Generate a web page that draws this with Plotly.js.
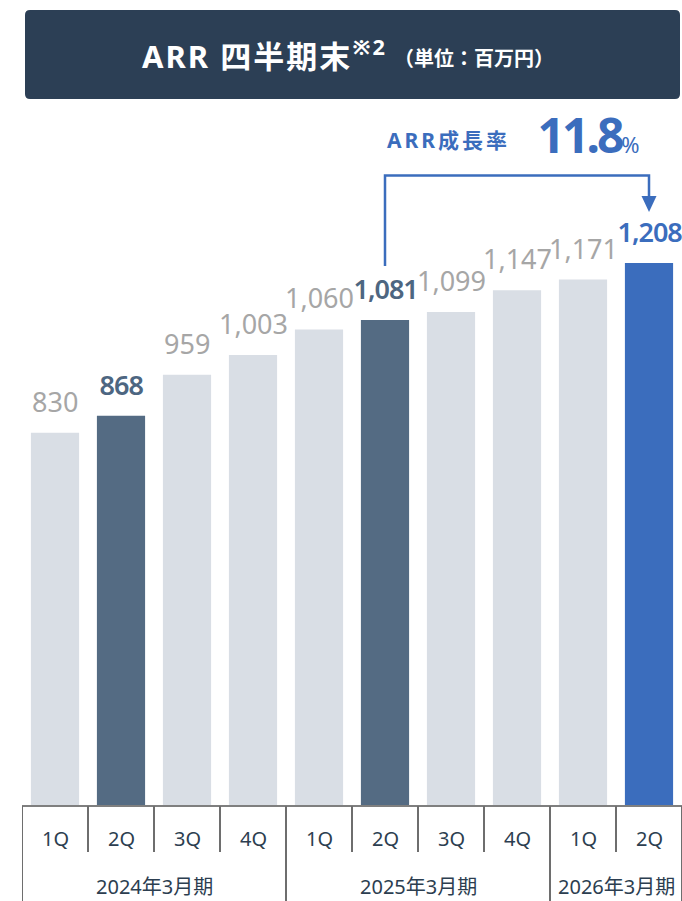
<!DOCTYPE html>
<html><head><meta charset="utf-8">
<script src="https://cdn.plot.ly/plotly-3.0.1.min.js"></script>
<style>html,body{margin:0;padding:0;background:#fff}</style>
</head><body><div id="chart" style="width:682px;height:901px"></div>
<script>
// ---- data ----
const quarters = ['1Q','2Q','3Q','4Q','1Q','2Q','3Q','4Q','1Q','2Q'];
const fiscalYears = ['2024年3月期','2025年3月期','2026年3月期'];
const yearSpans = [4, 4, 2];
const arrValues = [830, 868, 959, 1003, 1060, 1081, 1099, 1147, 1171, 1208];
const growthFrom = 5, growthTo = 9;
const growthRate = '11.8';
const titleMain = 'ARR 四半期末';
const titleNote = '※2';
const titleUnit = '（単位：百万円）';
const growthLabel = 'ARR成長率';

// ---- styles ----
const LIGHT = '#d9dee5', DARK = '#546b83', BLUE = '#3b6dbd';
const isHi = i => i === 1 || i === 5;
const barColors = arrValues.map((v, i) => i === growthTo ? BLUE : (isHi(i) ? DARK : LIGHT));
const labelColors = arrValues.map((v, i) => i === growthTo ? BLUE : (isHi(i) ? '#4d6681' : '#a6a6a6'));
const NUMFONT = 'Noto Sans, Noto Sans CJK JP, sans-serif';
const JPFONT = 'Noto Sans, Noto Sans CJK JP, sans-serif';

const xIdx = arrValues.map((v, i) => i);
const plotTop = 106, plotH = 700, baseY = 806;
const py = p => (baseY - p) / plotH; // pixel row -> paper y
const px = p => (p - 22) / 660;      // pixel col -> paper x

const shapes = [];
const annotations = [];

// title box (rounded)
const bx0 = px(25), bx1 = px(680), by0 = py(99), by1 = py(10), rx = 5/660, ry = 5/700;
shapes.push({type:'path', xref:'paper', yref:'paper', fillcolor:'#2c3f55', line:{width:0},
  path:`M ${bx0+rx},${by1} L ${bx1-rx},${by1} Q ${bx1},${by1} ${bx1},${by1-ry} L ${bx1},${by0+ry} Q ${bx1},${by0} ${bx1-rx},${by0} L ${bx0+rx},${by0} Q ${bx0},${by0} ${bx0},${by0+ry} L ${bx0},${by1-ry} Q ${bx0},${by1} ${bx0+rx},${by1} Z`});
annotations.push({xref:'paper', yref:'paper', x:px(264), y:py(55), xanchor:'center', yanchor:'middle', showarrow:false,
  name:'title', text:`<b>${titleMain}<sup>${titleNote}</sup></b>`,
  font:{family:JPFONT, size:31, color:'#ffffff'}});
annotations.push({xref:'paper', yref:'paper', x:px(474), y:py(58), xanchor:'center', yanchor:'middle', showarrow:false,
  text:`<b>${titleUnit}</b>`, font:{family:JPFONT, size:20, color:'#ffffff'}});

// growth annotation
annotations.push({xref:'paper', yref:'paper', x:px(448), y:py(140), xanchor:'center', yanchor:'middle', showarrow:false,
  name:'growthLabel', text:`<b>${growthLabel}</b>`, font:{family:JPFONT, size:21, color:BLUE}});
annotations.push({xref:'paper', yref:'paper', x:px(587), y:py(134), xanchor:'center', yanchor:'middle', showarrow:false,
  name:'growthRate', text:`<b>${growthRate}</b><span style="font-size:22px">%</span>`, font:{family:NUMFONT, size:48, color:BLUE}});

// bracket + arrow
const yTop = py(175.5), yLeftEnd = py(266), yTip = py(212), yHead = py(196);
shapes.push({type:'path', xref:'x', yref:'paper', line:{color:BLUE, width:2.5},
  path:`M ${growthFrom},${yLeftEnd} L ${growthFrom},${yTop} L ${growthTo},${yTop} L ${growthTo},${yHead}`});
const hw = 7.5/66;
shapes.push({type:'path', xref:'x', yref:'paper', line:{width:0}, fillcolor:BLUE,
  path:`M ${growthTo-hw},${yHead} L ${growthTo+hw},${yHead} L ${growthTo},${yTip} Z`});

// value labels
arrValues.forEach((v, i) => {
  const strong = isHi(i) || i === growthTo;
  annotations.push({x:i, y:v, xref:'x', yref:'y', yanchor:'bottom', yshift:11, showarrow:false,
    name: strong ? 'strongLabel' : 'label',
    text: v.toLocaleString('en-US'),
    font:{family:NUMFONT, size:27, color:labelColors[i], weight: strong ? 600 : 400}});
});

// baseline
shapes.push({type:'line', xref:'x', yref:'paper', x0:-0.5, x1:arrValues.length-0.5, y0:0, y1:0, line:{color:'#7f7f7f', width:2}});

// quarter dividers and labels
const qBottom = py(852), yBottom = py(905);
for (let i = 0; i <= quarters.length; i++) {
  shapes.push({type:'line', xref:'x', yref:'paper', x0:i-0.5, x1:i-0.5, y0:0, y1:qBottom, line:{color:'#6e6e6e', width:2}});
}
quarters.forEach((q, i) => annotations.push({x:i, xref:'x', yref:'paper', y:py(838), yanchor:'middle', showarrow:false,
  text:q, font:{family:JPFONT, size:20, color:'#2c3e50'}}));

// fiscal year dividers and labels
let start = 0;
const bounds = [start];
yearSpans.forEach(s => { start += s; bounds.push(start); });
bounds.forEach(b => shapes.push({type:'line', xref:'x', yref:'paper', x0:b-0.5, x1:b-0.5, y0:0, y1:yBottom, line:{color:'#6e6e6e', width:2}}));
fiscalYears.forEach((fy, k) => annotations.push({x:(bounds[k]+bounds[k+1]-1)/2, xref:'x', yref:'paper', y:py(886), yanchor:'middle', showarrow:false,
  text:fy, font:{family:JPFONT, size:20, color:'#2c3e50'}}));

const trace = {type:'bar', x:xIdx, y:arrValues, marker:{color:barColors, line:{width:0}}, hoverinfo:'skip'};

const layout = {
  width:682, height:901, margin:{l:22, r:0, t:plotTop, b:901-baseY},
  paper_bgcolor:'#ffffff', plot_bgcolor:'#ffffff', showlegend:false, bargap:0.27,
  xaxis:{range:[-0.5, arrValues.length-0.5], showticklabels:false, showgrid:false, zeroline:false, showline:false, ticks:'', fixedrange:true},
  yaxis:{range:[0, 1557], visible:false, showgrid:false, zeroline:false, fixedrange:true},
  shapes, annotations
};
Plotly.newPlot('chart', [trace], layout, {displayModeBar:false, staticPlot:true}).then(gd => {
  const spacing = {title:'2px', growthLabel:'3px', growthRate:'-3px', strongLabel:'-1px'};
  gd.layout.annotations.forEach((a, i) => {
    const s = spacing[a.name];
    if (!s) return;
    const el = gd.querySelector(`.annotation[data-index="${i}"] .annotation-text`);
    if (el) el.setAttribute('letter-spacing', s);
  });
});
</script></body></html>
